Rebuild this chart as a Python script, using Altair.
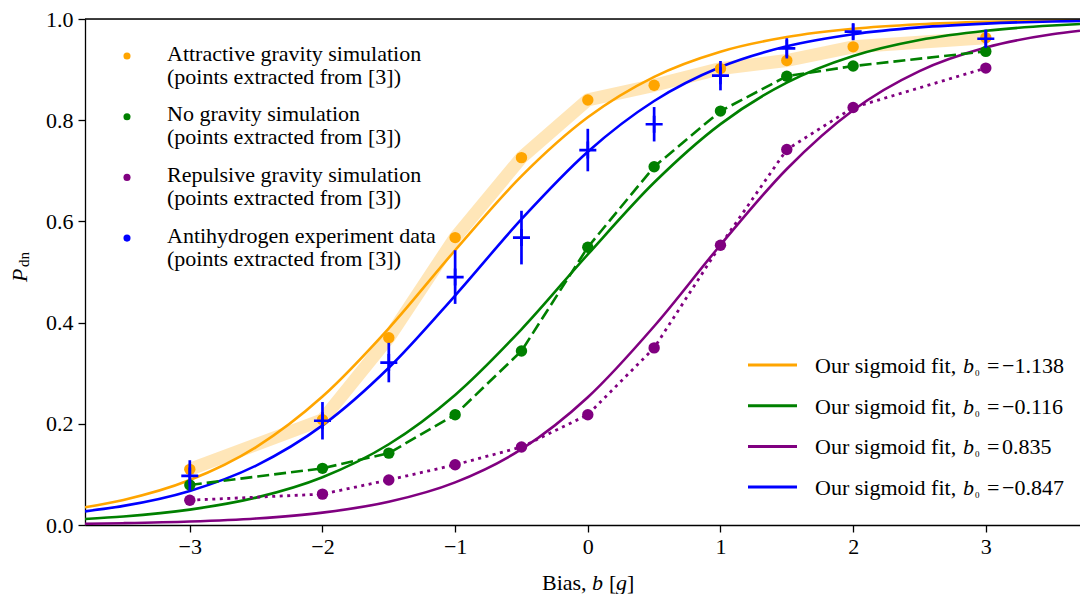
import altair as alt
import pandas as pd

# ---------------- data ----------------
b_points = [-3, -2, -1.5, -1, -0.5, 0, 0.5, 1, 1.5, 2, 3]
p_attractive = [0.110, 0.208, 0.370, 0.568, 0.726, 0.840, 0.869, 0.902, 0.918, 0.945, 0.963]
p_no_gravity = [0.079, 0.112, 0.142, 0.218, 0.344, 0.549, 0.708, 0.818, 0.887, 0.907, 0.936]
p_repulsive = [0.049, 0.061, 0.089, 0.119, 0.154, 0.218, 0.350, 0.553, 0.742, 0.825, 0.903]
p_antihydrogen = [0.097, 0.206, 0.321, 0.490, 0.568, 0.741, 0.792, 0.888, 0.942, 0.975, 0.961]
err_antihydrogen = [0.031, 0.037, 0.039, 0.053, 0.053, 0.042, 0.034, 0.029, 0.020, 0.016, 0.018]

fit_b = [-3.79, -3.5, -3, -2.5, -2, -1.5, -1, -0.5, 0, 0.5, 1, 1.5, 2, 2.5, 3, 3.5, 3.71]
fit_attractive = [0.0351, 0.0496, 0.0889, 0.1541, 0.2540, 0.3888, 0.5430, 0.6894, 0.8057,
                  0.8857, 0.9354, 0.9643, 0.9806, 0.9895, 0.9944, 0.9970, 0.9977]
fit_no_gravity = [0.0120, 0.0169, 0.0304, 0.0541, 0.0944, 0.1596, 0.2571, 0.3867, 0.5347,
                  0.6768, 0.7923, 0.8743, 0.9269, 0.9585, 0.9768, 0.9871, 0.9900]
fit_repulsive = [0.0024, 0.0036, 0.0068, 0.0129, 0.0245, 0.0459, 0.0843, 0.1499, 0.2525,
                 0.3928, 0.5534, 0.7036, 0.8197, 0.8970, 0.9435, 0.9697, 0.9768]
fit_antihydrogen = [0.0269, 0.0378, 0.0674, 0.1175, 0.1968, 0.3107, 0.4535, 0.6043, 0.7376,
                    0.8379, 0.9050, 0.9460, 0.9699, 0.9834, 0.9909, 0.9951, 0.9962]

sim_labels = [
    "Attractive gravity simulation\n(points extracted from [3])",
    "No gravity simulation\n(points extracted from [3])",
    "Repulsive gravity simulation\n(points extracted from [3])",
    "Antihydrogen experiment data\n(points extracted from [3])",
]
fit_label_prefix = "Our sigmoid fit, "
fit_b0_text = ["\u22121.138", "\u22120.116", "0.835", "\u22120.847"]

x_ticks = [-3, -2, -1, 0, 1, 2, 3]
y_ticks = [0.0, 0.2, 0.4, 0.6, 0.8, 1.0]

# ---------------- styling ----------------
ORANGE, GREEN, PURPLE, BLUE = "#FFA500", "#008000", "#800080", "#0000FF"
sim_colors = [ORANGE, GREEN, PURPLE, BLUE]
fit_colors = [ORANGE, GREEN, PURPLE, BLUE]
FONT = "Liberation Serif"
FS = 22
W, H = 995, 506
DY = -8  # vertical offset of annotations relative to the reference frame

pts = pd.DataFrame({
    "b": b_points, "att": p_attractive, "nog": p_no_gravity,
    "rep": p_repulsive, "anti": p_antihydrogen, "err": err_antihydrogen,
})
fits = pd.DataFrame({
    "b": fit_b, "att": fit_attractive, "nog": fit_no_gravity,
    "rep": fit_repulsive, "anti": fit_antihydrogen,
})

xscale = alt.Scale(domain=[-3.79, 3.71], nice=False, zero=False)
yscale = alt.Scale(domain=[0, 1], nice=False, zero=False)
axis_common = dict(labelFont=FONT, labelFontSize=FS, labelColor="black",
                   tickColor="black", tickSize=7, tickWidth=1.3,
                   domainColor="black", domainWidth=1.3, grid=False, title=None)
xaxis = alt.Axis(values=x_ticks, format="d", labelPadding=4, **axis_common)
yaxis = alt.Axis(values=y_ticks, format=".1f", labelPadding=5, **axis_common)


def X(f="b"):
    return alt.X(f"{f}:Q", scale=xscale, axis=xaxis)


def Y(f):
    return alt.Y(f"{f}:Q", scale=yscale, axis=yaxis)


layers = []

# orange shaded band along the attractive simulation
layers.append(alt.Chart(pts).mark_line(color=ORANGE, strokeWidth=13, opacity=0.28,
                                       strokeCap="butt", strokeJoin="round")
              .encode(x=X(), y=Y("att")))

# sigmoid fits
for col, c in zip(["att", "nog", "rep", "anti"], fit_colors):
    layers.append(alt.Chart(fits).mark_line(color=c, strokeWidth=2.6, clip=True,
                                            interpolate="monotone")
                  .encode(x=X(), y=Y(col)))

# dashed / dotted simulation connectors
layers.append(alt.Chart(pts).mark_line(color=GREEN, strokeWidth=2.6, strokeDash=[12, 5])
              .encode(x=X(), y=Y("nog")))
layers.append(alt.Chart(pts).mark_line(color=PURPLE, strokeWidth=2.8, strokeDash=[3, 4.5])
              .encode(x=X(), y=Y("rep")))

# simulation points
for col, c in zip(["att", "nog", "rep"], sim_colors[:3]):
    layers.append(alt.Chart(pts).mark_circle(color=c, size=130, opacity=1)
                  .encode(x=X(), y=Y(col)))

# antihydrogen data: error bars + plus markers
layers.append(alt.Chart(pts).transform_calculate(lo="datum.anti - datum.err",
                                                 hi="datum.anti + datum.err")
              .mark_rule(color=BLUE, strokeWidth=2.7)
              .encode(x=X(), y=Y("lo"), y2="hi:Q"))
layers.append(alt.Chart(pts).mark_point(shape="M-1,0L1,0M0,-1L0,1", size=290, filled=False,
                                        strokeWidth=2.7, color=BLUE, opacity=1)
              .encode(x=X(), y=Y("anti")))

one = pd.DataFrame({"t": [""]})

# top spine
layers.append(alt.Chart(one).mark_rule(color="black", strokeWidth=1.3)
              .encode(x=alt.value(0), x2=alt.value(W), y=alt.value(0)))


def txt(s, x, y, size=FS, style="normal", angle=0, align="left", baseline="alphabetic", **kw):
    return alt.Chart(pd.DataFrame({"t": [s]})).mark_text(
        font=FONT, fontSize=size, fontStyle=style, angle=angle, align=align,
        baseline=baseline, color="black", **kw).encode(
        text="t:N", x=alt.value(x), y=alt.value(y))


# upper-left legend (simulations / data)
for i, (lab, c) in enumerate(zip(sim_labels, sim_colors)):
    yc = 45 + DY + 60.7 * i
    layers.append(alt.Chart(one).mark_circle(color=c, size=50, opacity=1)
                  .encode(x=alt.value(42), y=alt.value(yc)))
    layers.append(txt(lab, 82, yc - 2.5, baseline="middle", lineBreak="\n", lineHeight=23))

# lower-right legend (sigmoid fits)
for i, (val, c) in enumerate(zip(fit_b0_text, fit_colors)):
    yl = 354 + DY + 40.7 * i
    yb = yl + 8
    layers.append(alt.Chart(one).mark_rule(color=c, strokeWidth=3)
                  .encode(x=alt.value(663), x2=alt.value(712), y=alt.value(yl)))
    layers.append(txt(fit_label_prefix, 730, yb))
    layers.append(txt("b", 878, yb, style="italic"))
    layers.append(txt("0", 890, yb + 3, size=9))
    layers.append(txt("=", 902, yb))
    layers.append(txt(val, 917, yb))

# x-axis title: Bias, b [g]
layers.append(txt("Bias,", 457, 579 + DY))
layers.append(txt("b", 507, 579 + DY, style="italic"))
layers.append(txt("[", 524, 579 + DY))
layers.append(txt("g", 531, 579 + DY, style="italic"))
layers.append(txt("]", 542, 579 + DY))

# y-axis title: P_dn
layers.append(txt("P", -58, 271 + DY, style="italic", angle=270))
layers.append(txt("dn", -56, 256 + DY, size=15, angle=270))

chart = alt.layer(*layers).properties(
    width=W, height=H,
    padding={"left": 77, "top": 11, "right": 0, "bottom": 69},
    autosize=alt.AutoSizeParams(type="none"),
).configure_view(stroke=None).configure(background="white")

chart.save("out.html", embed_options={"renderer": "svg", "actions": False})
